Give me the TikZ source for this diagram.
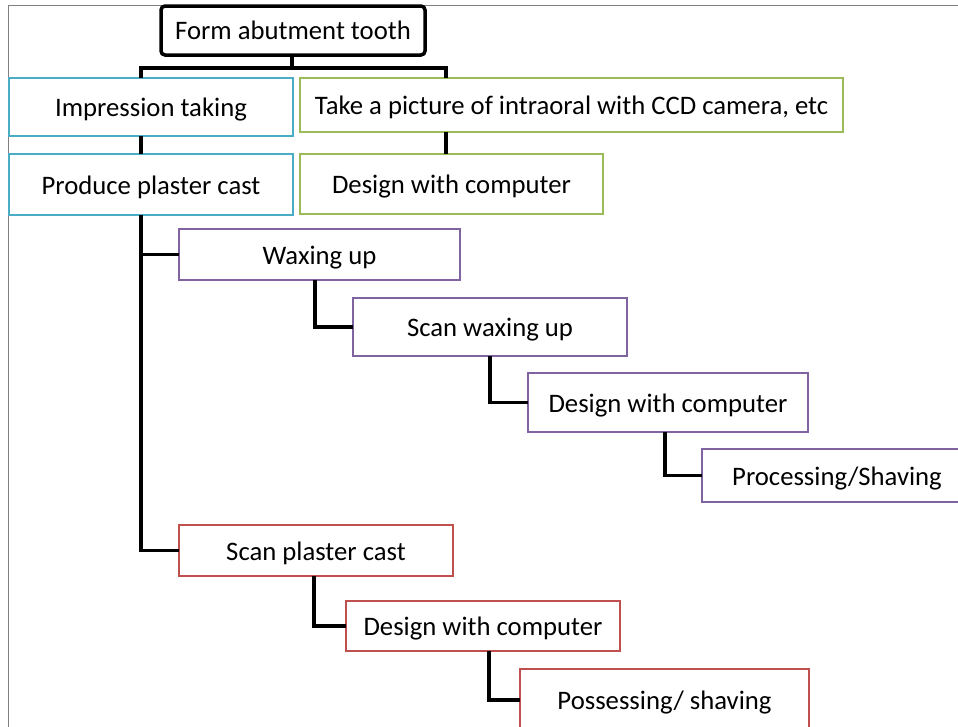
\documentclass[tikz,border=0pt]{standalone}
\usepackage{fontspec}
\setmainfont{Carlito}
\definecolor{cblue}{HTML}{4BACC6}
\definecolor{cgreen}{HTML}{9BBB59}
\definecolor{cpurple}{HTML}{8064A2}
\definecolor{cred}{HTML}{C0504D}
\definecolor{cframe}{HTML}{808080}
\begin{document}
\begin{tikzpicture}[x=1pt,y=-1pt,
  box/.style={draw=#1, line width=2pt, fill=white, inner sep=0pt, outer sep=0pt,
    text height=24pt, text depth=5pt,
    font=\fontsize{26.7}{30}\selectfont, text=black},
  topbox/.style={draw=black, line width=3.5pt, rounded corners=4pt, fill=white,
    inner sep=0pt, outer sep=0pt, text height=22pt, text depth=5pt,
    font=\fontsize{26.7}{30}\selectfont},
  conn/.style={draw=black, line width=3.8pt}]
\useasboundingbox (0,0) rectangle (958,726);
\clip (0,0) rectangle (958,726);
\fill[white] (0,0) rectangle (958,726);
% frame
\draw[cframe, line width=1pt] (8,730) -- (8,5) -- (962,5);
% coordinates for connector lines
\coordinate (busL) at (141,68);
\coordinate (busR) at (446,68);
% boxes
\node[topbox, minimum width=264, minimum height=49] (top) at (293,30.5) {Form abutment tooth};
\node[box=cblue, minimum width=284, minimum height=58] (imp) at (151,107) {Impression taking};
\node[box=cgreen, minimum width=543, minimum height=54] (pic) at (571.5,105) {Take a picture of intraoral with CCD camera, etc};
\node[box=cblue, minimum width=284, minimum height=61] (prod) at (151,184.5) {Produce plaster cast};
\node[box=cgreen, minimum width=303, minimum height=60] (dwcA) at (451.5,184) {Design with computer};
\node[box=cpurple, minimum width=281, minimum height=51] (wax) at (319.5,254.5) {Waxing up};
\node[box=cpurple, minimum width=274, minimum height=58] (scanw) at (490,327) {Scan waxing up};
\node[box=cpurple, minimum width=280, minimum height=59] (dwcB) at (668,402.5) {Design with computer};
\node[box=cpurple, minimum width=270, minimum height=53] (proc) at (837,475.5) {Processing/Shaving};
\node[box=cred, minimum width=274, minimum height=51] (scanp) at (316,550.5) {Scan plaster cast};
\node[box=cred, minimum width=274, minimum height=50] (dwcC) at (483,626) {Design with computer};
\node[box=cred, minimum width=289, minimum height=62] (poss) at (664.5,700) {Possessing/ shaving};
% connectors
\draw[conn] ([xshift=-1pt]top.south) -- ([xshift=-1pt]top.south |- busL);
\draw[conn] ([xshift=-1.9pt]busL) -- ([xshift=1.9pt]busR);
\draw[conn] (busL) -- (busL |- imp.north);
\draw[conn] (busR) -- (busR |- pic.north);
\draw[conn] (busL |- imp.south) -- (busL |- prod.north);
\draw[conn] (busR |- pic.south) -- (busR |- dwcA.north);
\draw[conn] (busL |- prod.south) |- (scanp.west);
\draw[conn] (busL |- wax.west) -- (wax.west);
\draw[conn] ([xshift=-4.5pt]wax.south) |- (scanw.west);
\draw[conn] (scanw.south) |- (dwcB.west);
\draw[conn] ([xshift=-3pt]dwcB.south) |- (proc.west);
\draw[conn] ([xshift=-2pt]scanp.south) |- (dwcC.west);
\draw[conn] ([xshift=6pt]dwcC.south) |- (poss.west);
\end{tikzpicture}
\end{document}
